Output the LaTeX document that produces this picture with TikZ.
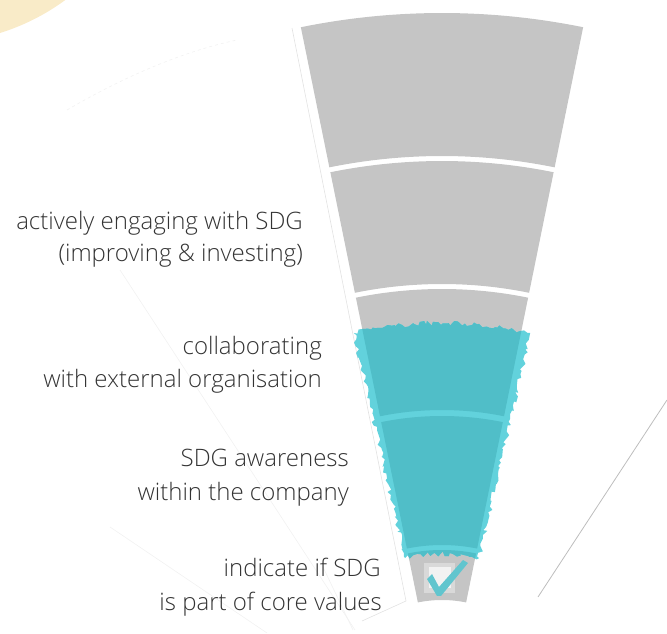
\documentclass[tikz,border=0pt]{standalone}
\usepackage{fontspec}
\setmainfont{Open Sans}[UprightFont=* Light]
\usetikzlibrary{decorations.pathmorphing}
\definecolor{wedgegray}{HTML}{C5C5C5}
\definecolor{tealdark}{HTML}{50BEC8}
\definecolor{tealbright}{HTML}{62D2DC}
\definecolor{txt}{HTML}{333333}
\definecolor{yel}{HTML}{F9EBC8}
\definecolor{boxouter}{HTML}{D9D9D9}
\definecolor{boxinner}{HTML}{F2F2F2}
\definecolor{faintA}{HTML}{E2E2E2}
\definecolor{faintB}{HTML}{F1F1F1}
\definecolor{linegray}{HTML}{BDBDBD}
\newcommand\annsec[4]{(#3:#2) arc[start angle=#3,end angle=#4,radius=#2] -- (#4:#1) arc[start angle=#4,end angle=#3,radius=#1] -- cycle}
\tikzset{
  lbl/.style={anchor=base east, font=\fontsize{24}{24}\selectfont, text=txt, inner sep=0pt},
  rough/.style={decorate, decoration={random steps, segment length=3pt, amplitude=2.4pt}},
}
\begin{document}
\begin{tikzpicture}[x=1pt,y=1pt]
\useasboundingbox (0,0) rectangle (667,634);
% faint background remnants
\fill[yel] (-66,813) circle (222);
\draw[faintB, dashed, line width=0.6] (67,524) .. controls (120,555) and (180,582) .. (237,594);
\draw[faintB, line width=0.6] (120,364) -- (355,4);
\draw[faintB, line width=0.6] (110,107) -- (267,1);
\draw[faintA, line width=0.6] (292,606) -- (406,33) -- (362,13);
\draw[faintB, line width=0.6] (323,67) -- (353,4);
\draw[linegray, line width=0.8] (667,234) -- (538,37);
\begin{scope}[shift={(442,-87)}]
  % gray segments
  \fill[wedgegray] \annsec{565}{708}{78.5}{101.5};
  \fill[wedgegray] \annsec{437}{560}{78.5}{101.5};
  \fill[wedgegray] \annsec{311}{432}{78.5}{101.5};
  \fill[wedgegray] \annsec{176}{305}{78.5}{101.5};
  \fill[wedgegray] \annsec{121}{171}{78.5}{101.5};
  % teal paint (bright where over white)
  \pgfmathsetseed{7}
  \fill[tealbright, rough] \annsec{167}{398}{77.2}{102.8};
  \begin{scope}
    \pgfmathsetseed{7}
    \path[rough, clip] \annsec{167}{398}{77.2}{102.8};
    \fill[tealdark] \annsec{311}{432}{78.5}{101.5};
    \fill[tealdark] \annsec{176}{305}{78.5}{101.5};
    \fill[tealdark] \annsec{121}{171}{78.5}{101.5};
  \end{scope}
\end{scope}
% checkbox
\fill[boxouter] (424,41) rectangle (455,71);
\fill[boxinner] (429,46) rectangle (451,67);
\fill[tealdark!90!white] (427,55) -- (432,60) -- (439,47) -- (463,74) -- (468,71) -- (441,38) -- (437,38) -- cycle;
% labels
\node[lbl] (l1a) at (303,404) {actively engaging with SDG};
\node[lbl] (l1b) at (303,372) {(improving \& investing)};
\node[lbl] (l2a) at (322,279) {collaborating};
\node[lbl] (l2b) at (322,246) {with external organisation};
\node[lbl] (l3a) at (349,167) {SDG awareness};
\node[lbl] (l3b) at (349,133) {within the company};
\node[lbl] (l4a) at (381,57) {indicate if SDG};
\node[lbl] (l4b) at (382,23) {is part of core values};
\end{tikzpicture}
\end{document}
